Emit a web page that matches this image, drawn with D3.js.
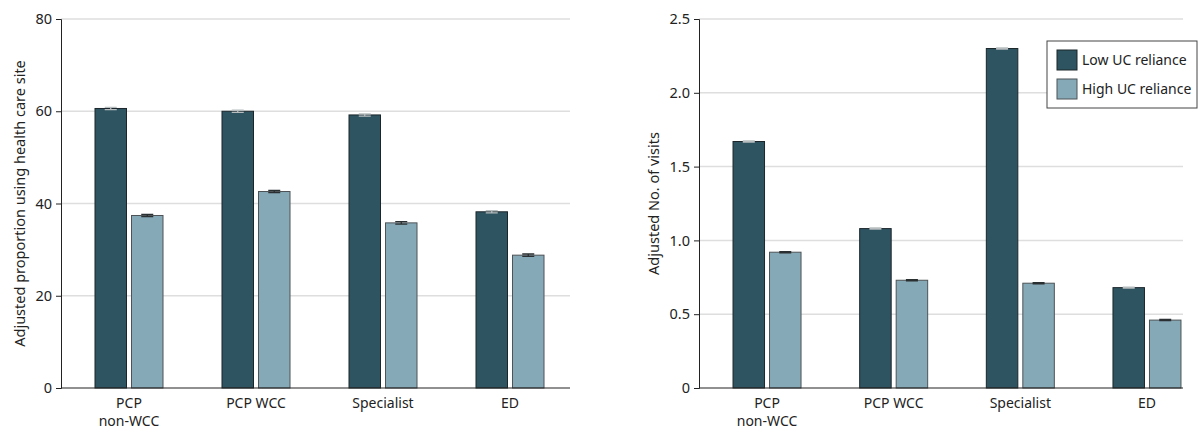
<!DOCTYPE html>
<html>
<head>
<meta charset="utf-8">
<title>UC reliance</title>
<script src="https://d3js.org/d3.v7.min.js"></script>
<style>
  body { margin: 0; background: #fff; }
  svg { display: block; font-family: "Noto Sans", sans-serif; }
</style>
</head>
<body>
<svg width="1201" height="432"></svg>
<script>
// categories and series
const categories = [["PCP", "non-WCC"], ["PCP WCC"], ["Specialist"], ["ED"]];
const catKeys = categories.map(c => c.join(" "));
const seriesNames = ["Low UC reliance", "High UC reliance"];

// left panel: adjusted proportion (%)
const propLow = [60.6, 60.0, 59.2, 38.2];
const propHigh = [37.4, 42.6, 35.8, 28.8];
const propErr = [0.25, 0.25, 0.25, 0.25];
const propTicks = [0, 20, 40, 60, 80];

// right panel: adjusted number of visits
const visLow = [1.67, 1.08, 2.30, 0.68];
const visHigh = [0.92, 0.73, 0.71, 0.46];
const visErr = [0.004, 0.004, 0.004, 0.004];
const visTicks = [0, 0.5, 1.0, 1.5, 2.0, 2.5];

const colors = ["#2e5461", "#86a9b7"];
const strokes = ["#1b262b", "#4d5356"];
const capColors = ["#b8bec0", "#2a2f31"];

const svg = d3.select("svg");

function panel(opt) {
  const g = svg.append("g");
  const y = d3.scaleLinear().domain(opt.domain).range([388, 19]);
  const x0 = d3.scaleBand().domain(catKeys).range(opt.bandRange);
  const x1 = d3.scaleBand().domain(seriesNames).range([-34, 34]).paddingInner(0.137);

  // gridlines
  g.append("g").selectAll("line")
    .data(opt.ticks.filter(t => t > 0))
    .join("line")
    .attr("x1", opt.axisX).attr("x2", opt.axisEnd)
    .attr("y1", d => y(d)).attr("y2", d => y(d))
    .attr("stroke", "#dedede").attr("stroke-width", 1.5);

  // y axis
  const yAxis = d3.axisLeft(y).tickValues(opt.ticks).tickSize(5).tickPadding(4)
    .tickFormat(opt.fmt);
  const ya = g.append("g").attr("transform", `translate(${opt.axisX},0)`).call(yAxis);
  ya.select(".domain").attr("stroke", "#222");
  ya.selectAll(".tick line").attr("stroke", "#222");
  ya.selectAll("text").attr("fill", "#222").style("font-size", "14.5px")
    .style("font-family", "'Noto Sans', sans-serif");

  // y title
  g.append("text")
    .attr("transform", `translate(${opt.axisX - opt.titleOff},${(y.range()[0] + y.range()[1]) / 2}) rotate(-90)`)
    .attr("text-anchor", "middle")
    .attr("fill", "#222")
    .style("font-size", "14.5px")
    .text(opt.title);

  // bars
  const rows = catKeys.map((k, i) => ({
    key: k,
    vals: [
      { s: 0, v: opt.low[i], e: opt.err[i] },
      { s: 1, v: opt.high[i], e: opt.err[i] }
    ]
  }));
  const grp = g.append("g").selectAll("g")
    .data(rows).join("g")
    .attr("transform", d => `translate(${x0(d.key) + x0.bandwidth() / 2},0)`);

  grp.selectAll("rect")
    .data(d => d.vals).join("rect")
    .attr("x", d => x1(seriesNames[d.s]))
    .attr("width", x1.bandwidth())
    .attr("y", d => y(d.v))
    .attr("height", d => y(0) - y(d.v))
    .attr("fill", d => colors[d.s])
    .attr("stroke", d => strokes[d.s])
    .attr("stroke-width", 1);

  // error bars (tiny CIs)
  grp.selectAll("path.err")
    .data(d => d.vals).join("path")
    .attr("class", "err")
    .attr("fill", "none")
    .attr("stroke", d => capColors[d.s])
    .attr("stroke-width", 1.3)
    .attr("d", d => {
      const cx = x1(seriesNames[d.s]) + x1.bandwidth() / 2;
      const lo = y(d.v - d.e), hi = y(d.v + d.e);
      return `M${cx - 6},${hi}H${cx + 6}M${cx},${hi}V${lo}M${cx - 6},${lo}H${cx + 6}`;
    });

  // x axis
  g.append("line")
    .attr("x1", opt.axisX).attr("x2", opt.axisEnd)
    .attr("y1", y(0)).attr("y2", y(0))
    .attr("stroke", "#222").attr("stroke-width", 1.2);

  const lab = g.append("g").selectAll("text")
    .data(categories).join("text")
    .attr("x", (d, i) => x0(catKeys[i]) + x0.bandwidth() / 2)
    .attr("y", 408)
    .attr("text-anchor", "middle")
    .attr("fill", "#222")
    .style("font-size", "14px");
  lab.selectAll("tspan")
    .data(d => d).join("tspan")
    .attr("x", function () { return this.parentNode.getAttribute("x"); })
    .attr("dy", (d, i) => i === 0 ? 0 : 18)
    .text(d => d);
}

panel({
  domain: [0, 80], ticks: propTicks, fmt: d3.format("d"),
  low: propLow, high: propHigh, err: propErr,
  axisX: 61, axisEnd: 570, bandRange: [65.5, 573.5],
  title: "Adjusted proportion using health care site", titleOff: 36
});

panel({
  domain: [0, 2.5], ticks: visTicks, fmt: d => d === 0 ? "0" : d3.format(".1f")(d),
  low: visLow, high: visHigh, err: visErr,
  axisX: 699, axisEnd: 1183, bandRange: [703.7, 1210.3],
  title: "Adjusted No. of visits", titleOff: 40
});

// legend
const leg = svg.append("g").attr("transform", "translate(1047,41)");
leg.append("rect").attr("width", 150).attr("height", 67)
  .attr("fill", "#fff").attr("stroke", "#444").attr("stroke-width", 1);
const li = leg.selectAll("g.item").data(seriesNames).join("g")
  .attr("class", "item")
  .attr("transform", (d, i) => `translate(10,${9 + i * 29})`);
li.append("rect").attr("width", 20).attr("height", 20)
  .attr("fill", (d, i) => colors[i]).attr("stroke", (d, i) => strokes[i]);
li.append("text").attr("x", 25).attr("y", 15)
  .attr("fill", "#222").style("font-size", "14px").text(d => d);
</script>
</body>
</html>
